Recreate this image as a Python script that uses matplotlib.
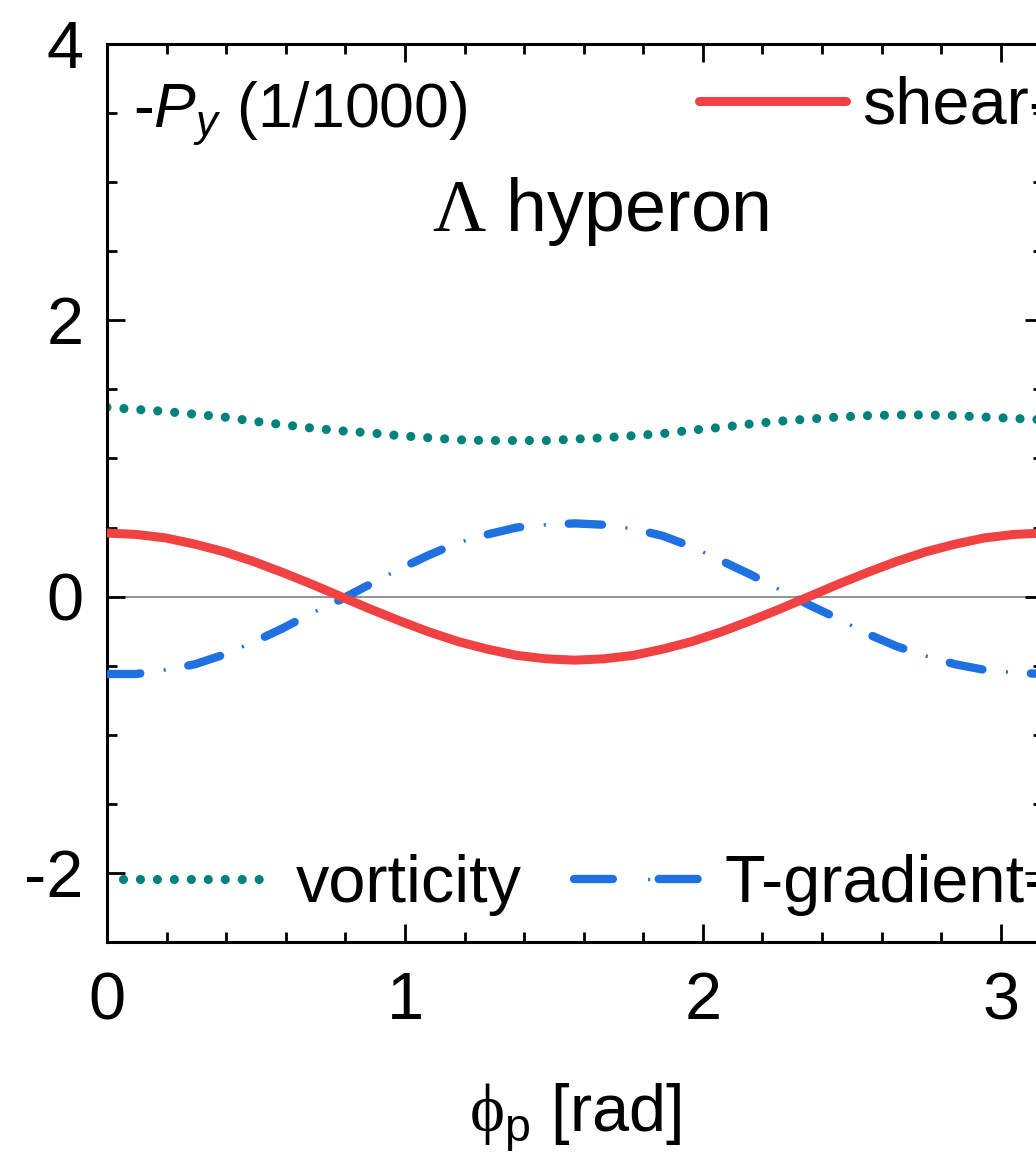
# Lambda hyperon polarization -P_y vs azimuthal angle phi_p

import numpy as np
import matplotlib.pyplot as plt
from matplotlib.lines import Line2D

plt.rcParams['font.family'] = ['Liberation Sans', 'DejaVu Sans']
plt.rcParams['mathtext.fontset'] = 'custom'
plt.rcParams['mathtext.rm'] = 'Liberation Serif'
plt.rcParams['mathtext.it'] = 'Liberation Sans:italic'
plt.rcParams['mathtext.sf'] = 'Liberation Sans'
plt.rcParams['axes.unicode_minus'] = False
plt.rcParams['lines.scale_dashes'] = False

# azimuthal angle grid (0..pi, step pi/32)
phi = np.linspace(0, np.pi, 33)

shear = [0.46, 0.45, 0.425, 0.38, 0.325, 0.255, 0.175, 0.09, 0.0,
         -0.09, -0.175, -0.255, -0.325, -0.38, -0.425, -0.45, -0.46,
         -0.45, -0.425, -0.38, -0.325, -0.255, -0.175, -0.09, 0.0,
         0.09, 0.175, 0.255, 0.325, 0.38, 0.425, 0.45, 0.46]
t_gradient = [-0.56, -0.56, -0.53, -0.49, -0.42, -0.33, -0.23, -0.12, -0.02,
              0.09, 0.20, 0.30, 0.39, 0.45, 0.50, 0.52, 0.53,
              0.52, 0.49, 0.44, 0.36, 0.26, 0.16, 0.05, -0.06,
              -0.16, -0.27, -0.36, -0.43, -0.49, -0.53, -0.55, -0.56]
vorticity = [1.37, 1.355, 1.34, 1.32, 1.30, 1.27, 1.245, 1.22, 1.20,
             1.185, 1.165, 1.15, 1.135, 1.13, 1.13, 1.13, 1.14,
             1.15, 1.165, 1.18, 1.205, 1.225, 1.25, 1.27, 1.285,
             1.30, 1.31, 1.315, 1.315, 1.31, 1.30, 1.29, 1.28]

red = '#F04242'
blue = '#1F70E0'
teal = '#00827C'
fs = 48

fig = plt.figure(figsize=(10.36, 11.53), dpi=100)
ax = fig.add_axes([107 / 1036, 211 / 1153, 936 / 1036, 898 / 1153])

ax.axhline(0, color='#8a8a8a', lw=1.3, zorder=1)

l_vort, = ax.plot(phi, vorticity, color=teal, lw=6.6, linestyle=(0, (0.01, 12.2)),
                  dash_capstyle='round', zorder=2)
ax.plot(phi, t_gradient, color=blue, lw=6.0, linestyle=(0, (24, 35)),
        dash_capstyle='round', zorder=3)
ax.plot(phi, t_gradient, color=blue, lw=2.5, linestyle=(18, (1.5, 57.5)),
        dash_capstyle='butt', zorder=3)
l_sh, = ax.plot(phi, shear, color=red, lw=6.5, solid_capstyle='round', zorder=4)

ax.set_xlim(0, np.pi)
ax.set_ylim(-2.5, 4)
ax.set_xticks([0, 1, 2, 3])
ax.set_yticks([-2, 0, 2, 4])
ax.set_xticks(np.arange(0, 3.2, 0.2), minor=True)
ax.set_yticks(np.arange(-2.5, 4.01, 0.5), minor=True)
ax.tick_params(which='both', direction='in', top=True, right=True, width=2)
ax.tick_params(which='major', length=13, labelsize=fs)
ax.tick_params(which='minor', length=7)
ax.tick_params(axis='x', pad=21)
ax.tick_params(axis='y', pad=17)
for s in ax.spines.values():
    s.set_linewidth(2.2)

ax.set_xlabel(r'$\mathrm{\phi}_\mathsf{p}$ [rad]', fontsize=fs)
ax.xaxis.label.set_va('baseline')
ax.xaxis.set_label_coords(0.5, -0.211)

ax.text(0.028, 0.9076, '-$P_y$ (1/1000)', transform=ax.transAxes,
        fontsize=45, va='baseline', ha='left')
ax.text(0.527, 0.7918, r'$\Lambda$ hyperon', transform=ax.transAxes,
        fontsize=53, va='baseline', ha='center')

# legend entries
leg_kw = dict(loc='center left', frameon=False, fontsize=fs, borderpad=0,
              borderaxespad=0, handletextpad=0.4)
leg1 = ax.legend([l_sh], ['shear-induced'], bbox_to_anchor=(0.6325, 0.930),
                 handlelength=2.2, **dict(leg_kw, handletextpad=0.25))
ax.add_artist(leg1)
leg2 = ax.legend([l_vort], ['vorticity'], bbox_to_anchor=(0.017, 0.0635),
                 handlelength=2.2, **leg_kw)
ax.add_artist(leg2)
tg_dash = Line2D([], [], color=blue, lw=6.0, linestyle=(0, (28, 33, 28, 100)),
                 dash_capstyle='round')
tg_dot = Line2D([], [], color=blue, lw=2.5, linestyle=(0, (0.0001, 53, 1.5, 200)),
                dash_capstyle='butt')
ax.legend([(tg_dash, tg_dot)], ['T-gradient-induced'],
          bbox_to_anchor=(0.4986, 0.0635), handlelength=1.86, **leg_kw)

fig.savefig('out.png', dpi=100)
